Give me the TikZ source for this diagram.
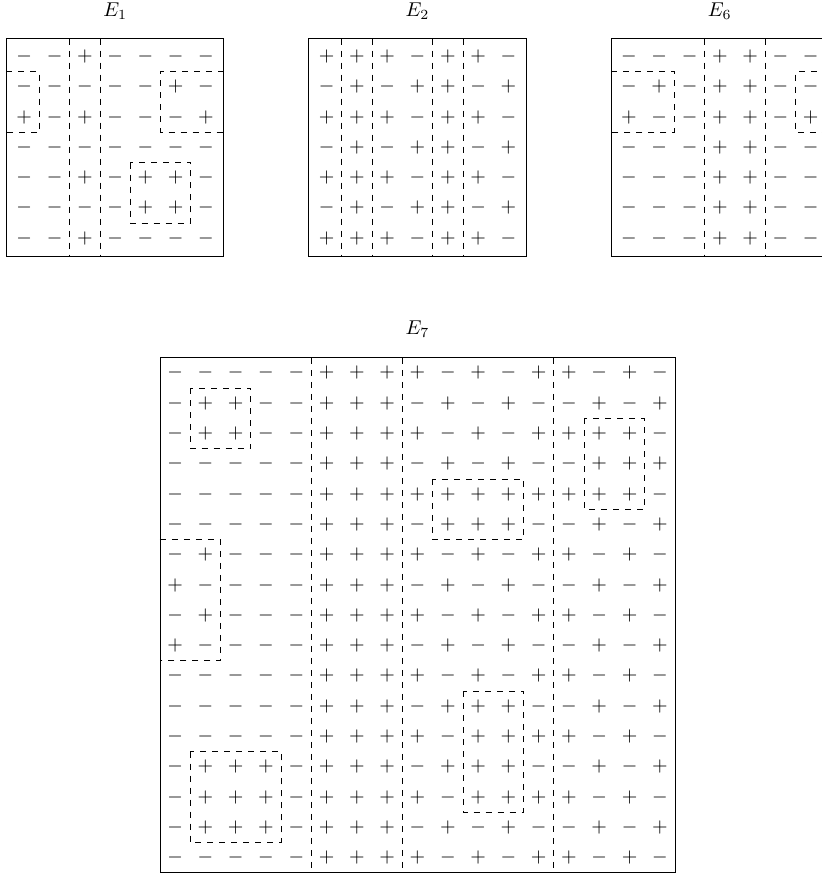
\documentclass[tikz,border=0pt]{standalone}
\begin{document}
\begin{tikzpicture}[x=15.15pt,y=-15.15pt,
		sign/.style={inner sep=0pt},
		title/.style={anchor=base},
		frame/.style={thin},
		cut/.style={dashed}]
	\useasboundingbox (0,0) rectangle (27.10,28.98);

	% E_1
	\begin{scope}[shift={(-0.20,0.865)}]
		\node[title] (t1) at (4,-0.33) {$E_1$};
		\draw[frame] (0.41,0.41) rectangle (7.59,7.59);
		\foreach \row [count=\r] in {{-,-,+,-,-,-,-},{-,-,-,-,-,+,-},{+,-,+,-,-,-,+},{-,-,-,-,-,-,-},{-,-,+,-,+,+,-},{-,-,-,-,+,+,-},{-,-,+,-,-,-,-}}
			\foreach \s [count=\c] in \row
				\node[sign] (e1-\r-\c) at (\c,\r) {$\s$};
		\draw[cut] (2.5,0.41) -- (2.5,7.59);
		\draw[cut] (3.5,0.41) -- (3.5,7.59);
		\draw[cut] (0.41,1.5) -- (1.5,1.5) -- (1.5,3.5) -- (0.41,3.5);
		\draw[cut] (7.59,1.5) -- (5.5,1.5) -- (5.5,3.5) -- (7.59,3.5);
		\draw[cut] (4.5,4.5) rectangle (6.5,6.5);
	\end{scope}

	% E_2
	\begin{scope}[shift={(9.78,0.865)}]
		\node[title] (t2) at (4,-0.33) {$E_2$};
		\draw[frame] (0.41,0.41) rectangle (7.59,7.59);
		\foreach \row [count=\r] in {{+,+,+,-,+,+,-},{-,+,-,+,+,-,+},{+,+,+,-,+,+,-},{-,+,-,+,+,-,+},{+,+,+,-,+,+,-},{-,+,-,+,+,-,+},{+,+,+,-,+,+,-}}
			\foreach \s [count=\c] in \row
				\node[sign] (e2-\r-\c) at (\c,\r) {$\s$};
		\foreach \x in {1.5,2.5,4.5,5.5}
			\draw[cut] (\x,0.41) -- (\x,7.59);
	\end{scope}

	% E_6
	\begin{scope}[shift={(19.76,0.865)}]
		\node[title] (t6) at (4,-0.33) {$E_6$};
		\draw[frame] (0.41,0.41) rectangle (7.59,7.59);
		\foreach \row [count=\r] in {{-,-,-,+,+,-,-},{-,+,-,+,+,-,-},{+,-,-,+,+,-,+},{-,-,-,+,+,-,-},{-,-,-,+,+,-,-},{-,-,-,+,+,-,-},{-,-,-,+,+,-,-}}
			\foreach \s [count=\c] in \row
				\node[sign] (e6-\r-\c) at (\c,\r) {$\s$};
		\draw[cut] (3.5,0.41) -- (3.5,7.59);
		\draw[cut] (5.5,0.41) -- (5.5,7.59);
		\draw[cut] (0.41,1.5) -- (2.5,1.5) -- (2.5,3.5) -- (0.41,3.5);
		\draw[cut] (7.59,1.5) -- (6.5,1.5) -- (6.5,3.5) -- (7.59,3.5);
	\end{scope}

	% E_7
	\begin{scope}[shift={(4.78,11.31)}]
		\node[title] (t7) at (9,-0.27) {$E_7$};
		\draw[frame] (0.5,0.5) rectangle (17.5,17.5);
		\foreach \row [count=\r] in {
				{-,-,-,-,-,+,+,+,+,-,+,-,+,+,-,+,-},
				{-,+,+,-,-,+,+,+,-,+,-,+,-,-,+,-,+},
				{-,+,+,-,-,+,+,+,+,-,+,-,+,+,+,+,-},
				{-,-,-,-,-,+,+,+,-,+,-,+,-,-,+,+,+},
				{-,-,-,-,-,+,+,+,+,+,+,+,+,+,+,+,-},
				{-,-,-,-,-,+,+,+,-,+,+,+,-,-,+,-,+},
				{-,+,-,-,-,+,+,+,+,-,+,-,+,+,-,+,-},
				{+,-,-,-,-,+,+,+,-,+,-,+,-,-,+,-,+},
				{-,+,-,-,-,+,+,+,+,-,+,-,+,+,-,+,-},
				{+,-,-,-,-,+,+,+,-,+,-,+,-,-,+,-,+},
				{-,-,-,-,-,+,+,+,+,-,+,-,+,+,-,+,-},
				{-,-,-,-,-,+,+,+,-,+,+,+,-,-,+,-,+},
				{-,-,-,-,-,+,+,+,+,-,+,+,+,+,-,+,-},
				{-,+,+,+,-,+,+,+,-,+,+,+,-,-,+,-,+},
				{-,+,+,+,-,+,+,+,+,-,+,+,+,+,-,+,-},
				{-,+,+,+,-,+,+,+,-,+,-,+,-,-,+,-,+},
				{-,-,-,-,-,+,+,+,+,-,+,-,+,+,-,+,-}}
			\foreach \s [count=\c] in \row
				\node[sign] (e7-\r-\c) at (\c,\r) {$\s$};
		\foreach \x in {5.5,8.5,13.5}
			\draw[cut] (\x,0.5) -- (\x,17.5);
		\draw[cut] (1.5,1.5) rectangle (3.5,3.5);
		\draw[cut] (0.5,6.5) -- (2.5,6.5) -- (2.5,10.5) -- (0.5,10.5);
		\draw[cut] (1.5,13.5) rectangle (4.5,16.5);
		\draw[cut] (9.5,4.5) rectangle (12.5,6.5);
		\draw[cut] (14.5,2.5) rectangle (16.5,5.5);
		\draw[cut] (10.5,11.5) rectangle (12.5,15.5);
	\end{scope}
\end{tikzpicture}
\end{document}
